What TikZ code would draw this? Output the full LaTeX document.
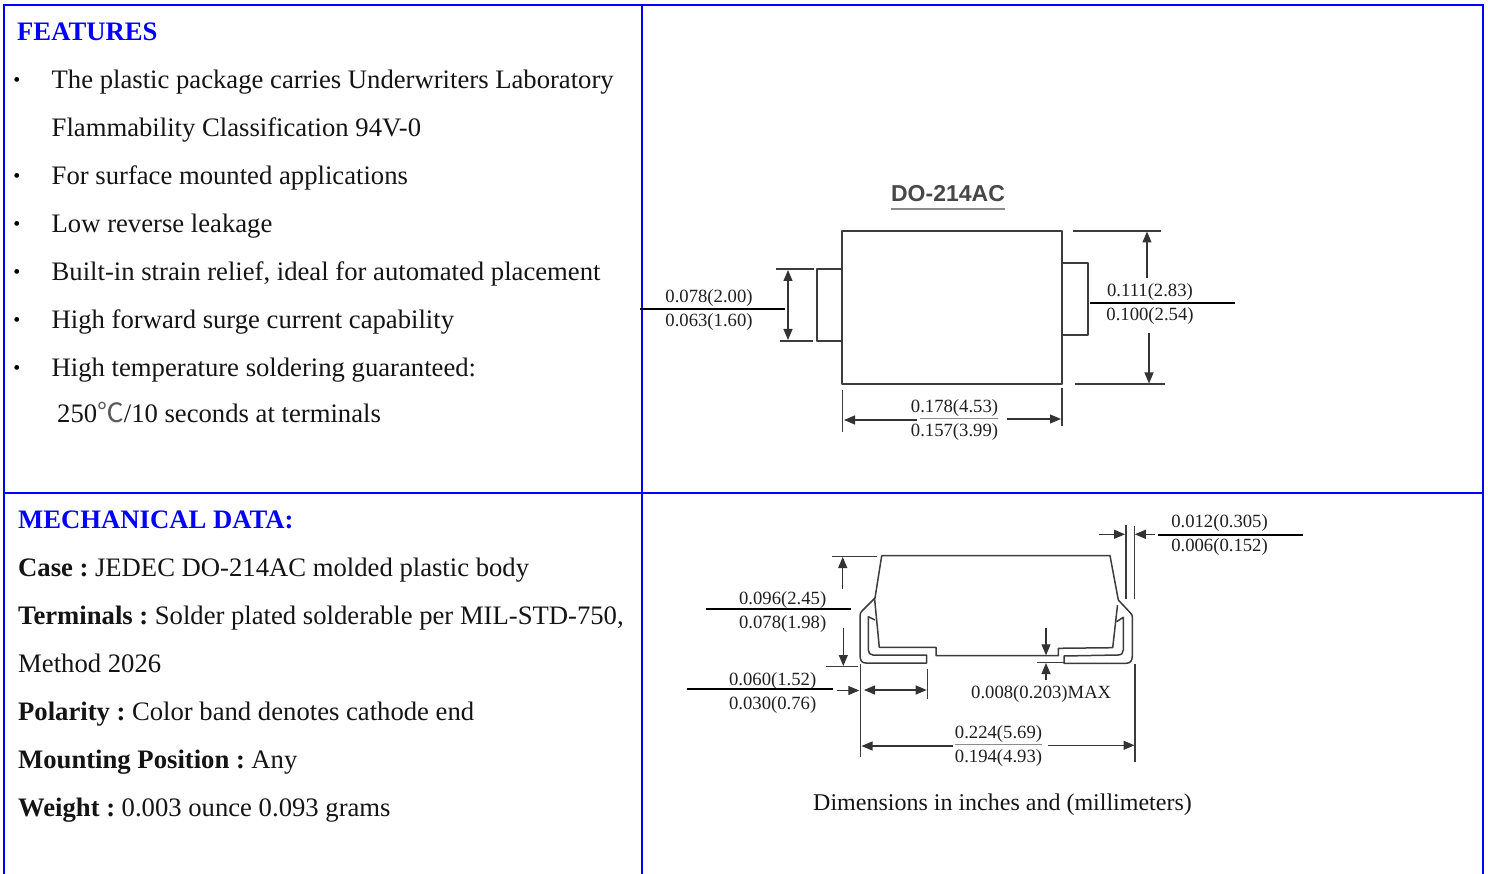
\documentclass[tikz,border=0pt]{standalone}
\usepackage{fontspec}
\setmainfont{Liberation Serif}
\newfontfamily\cjkfont{Noto Sans CJK SC}
\newfontfamily\arialfont{Liberation Sans}
\usetikzlibrary{arrows.meta}
\definecolor{rule}{RGB}{0,0,255}
\definecolor{pen}{RGB}{60,60,60}
\newcommand{\lab}[1]{\textbf{#1}\hspace{6.5pt}}
\tikzset{
  frameline/.style={draw=rule,line width=2pt},
  body/.style={inner sep=0pt,anchor=base west,font=\fontsize{26.67}{26.67}\selectfont,text=black!92},
  headtext/.style={body,font=\fontsize{26.67}{26.67}\selectfont\bfseries,text=rule},
  bulletmark/.style={inner sep=0pt,anchor=center,font=\fontsize{20}{20}\selectfont},
  dimtext/.style={inner sep=0pt,anchor=base,font=\fontsize{18.67}{18.67}\selectfont,text=black!88},
  outline/.style={draw=pen,line width=1.5pt,line join=round},
  thin line/.style={draw=pen,line width=1.2pt},
  fracline/.style={draw=black,line width=2pt},
  softline/.style={draw=black!45,line width=1.2pt},
  dimarrow/.style={draw=black!80,line width=1.1pt,-{Triangle[length=11pt,width=9pt]}},
  dimboth/.style={draw=black!80,line width=1.1pt,{Triangle[length=11pt,width=9pt]}-{Triangle[length=11pt,width=9pt]}}
}
\begin{document}
\begin{tikzpicture}[x=1pt,y=-1pt]
\useasboundingbox (0,0) rectangle (1488,874);
% frame
\draw[frameline] (4,874) -- (4,5) -- (1483,5) -- (1483,874);
\draw[frameline] (642,5) -- (642,874);
\draw[frameline] (4,493) -- (1483,493);
% features
\node[headtext] (feat) at (17,40.5) {FEATURES};
\foreach \nm/\yy in {b1/82,b2/178,b3/226,b4/274,b5/322,b6/370}
  \node[bulletmark] (\nm) at (17,\yy) {•};
\node[body] (f1) at (51.5,89) {The plastic package carries Underwriters Laboratory};
\node[body] (f1b) at (51.5,137) {Flammability Classification 94V-0};
\node[body] (f2) at (51.5,185) {For surface mounted applications};
\node[body] (f3) at (51.5,233) {Low reverse leakage};
\node[body] (f4) at (51.5,281) {Built-in strain relief, ideal for automated placement};
\node[body] (f5) at (51.5,329) {High forward surge current capability};
\node[body] (f6) at (51.5,377) {High temperature soldering guaranteed:};
\node[body] (f6b) at (57,422.5) {250{\cjkfont\color{black!65}℃}/10 seconds at terminals};
% mechanical
\node[headtext] (mech) at (18,528) {MECHANICAL DATA:};
\node[body] (m1) at (18,576.5) {\lab{Case :}JEDEC DO-214AC molded plastic body};
\node[body] (m2) at (18,624.5) {\lab{Terminals :}Solder plated solderable per MIL-STD-750,};
\node[body] (m2b) at (18,672.5) {Method 2026};
\node[body] (m3) at (18,720.5) {\lab{Polarity :}Color band denotes cathode end};
\node[body] (m4) at (18,768.5) {\lab{Mounting Position :}Any};
\node[body] (m5) at (18,816.5) {\lab{Weight :}0.003 ounce 0.093 grams};
% top view
\node[inner sep=0pt,anchor=base,font=\fontsize{23}{23}\selectfont\arialfont\bfseries,text=black!72] (pkg) at (948,202) {DO-214AC};
\draw[softline] (891,209) -- (1005,209);
\draw[outline] (842,231) rectangle (1062,384);
\draw[outline] (842,269) -- (817,269) -- (817,341) -- (842,341);
\draw[outline] (1062,263) -- (1088,263) -- (1088,335) -- (1062,335);
\draw[thin line] (776,269) -- (814,269);
\draw[thin line] (780,341) -- (813,341);
\draw[dimboth] (788,270) -- (788,340);
\draw[fracline] (640,309) -- (785,309);
\node[dimtext] (a1) at (709,303) {0.078(2.00)};
\node[dimtext] (a2) at (709,327) {0.063(1.60)};
\draw[thin line] (1073,231) -- (1161,231);
\draw[thin line] (1075,384) -- (1165,384);
\draw[dimarrow] (1147,278) -- (1147,231.5);
\draw[dimarrow] (1149,333) -- (1149,383.5);
\draw[fracline] (1090,303) -- (1235,303);
\node[dimtext] (c1) at (1150,297) {0.111(2.83)};
\node[dimtext] (c2) at (1150,321) {0.100(2.54)};
\draw[thin line] (842.5,390) -- (842.5,432);
\draw[thin line] (1062,388) -- (1062,426);
\draw[dimarrow] (917,420) -- (844,420);
\draw[dimarrow] (1007,419) -- (1061,419);
\draw[softline] (920,418.5) -- (998,418.5);
\node[dimtext] (d1) at (954.5,412) {0.178(4.53)};
\node[dimtext] (d2) at (954.5,436) {0.157(3.99)};
% side view
\draw[outline] (875,598) -- (881.7,555.7) -- (1110,555.7) -- (1118.3,600);
\draw[outline] (874.5,598) -- (879.3,647.3) -- (936,647.3) -- (936,655.7) -- (1058.3,655.7) -- (1058.3,648.3) -- (1112.7,647.7) -- (1117.5,605);
\draw[outline] (875,598) -- (862,611) .. controls (860.5,612.5) and (860,614) .. (860,616) -- (860,655) .. controls (860,661) and (862,663) .. (866,663) -- (926.7,663) -- (926.7,655) -- (873,655) .. controls (870,655) and (868.3,653) .. (868.3,650) -- (868.3,616.7) -- (875,620);
\draw[outline] (1118.3,600) -- (1130.5,613) .. controls (1131.8,614.3) and (1132.3,615.5) .. (1132.3,617) -- (1132.3,656) .. controls (1132.3,661) and (1130,663.3) .. (1126,663.3) -- (1064,663.3) -- (1064,656) -- (1118,655) .. controls (1121.5,655) and (1123.3,653) .. (1123.3,650) -- (1123.3,617.3) -- (1116.5,621.7);
\draw[thin line] (832,556.7) -- (877,556.7);
\draw[dimarrow] (842.7,589) -- (842.7,557);
\draw[dimarrow] (843.3,628) -- (843.3,666);
\draw[thin line] (826,666.3) -- (857.7,666.3);
\draw[fracline] (705.7,608.7) -- (851,608.7);
\node[dimtext] (e1) at (782.7,604.5) {0.096(2.45)};
\node[dimtext] (e2) at (782.7,628) {0.078(1.98)};
\draw[fracline] (687.3,689) -- (832.7,689);
\node[dimtext] (g1) at (772.7,685) {0.060(1.52)};
\node[dimtext] (g2) at (772.7,709) {0.030(0.76)};
\draw[dimarrow] (837.3,690.5) -- (859.3,690.5);
\draw[thin line] (860.5,664) -- (860.5,756.7);
\draw[dimboth] (864,690) -- (926.7,690);
\draw[thin line] (927.7,669.3) -- (927.7,699.3);
\draw[dimarrow] (953,746) -- (861.5,746);
\draw[dimarrow] (1048,745.3) -- (1134.5,745.3);
\draw[thin line] (1135,664) -- (1135,761.7);
\draw[softline] (955,744.5) -- (1042,744.5);
\node[dimtext] (h1) at (998.5,738) {0.224(5.69)};
\node[dimtext] (h2) at (998.5,762) {0.194(4.93)};
\draw[dimarrow] (1046,628.3) -- (1046,655.3);
\draw[dimarrow] (1046,680) -- (1046,663);
\draw[thin line] (1036.7,662.3) -- (1064,662.3);
\node[dimtext,anchor=base west] (i1) at (971,698) {0.008(0.203)MAX};
\draw[dimarrow] (1099.3,534.3) -- (1125,534.3);
\draw[dimarrow] (1155,534.3) -- (1134.8,534.3);
\draw[thin line] (1126,525) -- (1126,599.3);
\draw[thin line] (1134.3,526) -- (1134.3,599.3);
\draw[fracline] (1157.7,534.7) -- (1303.3,534.7);
\node[dimtext] (j1) at (1219.5,527) {0.012(0.305)};
\node[dimtext] (j2) at (1219.5,551) {0.006(0.152)};
\node[inner sep=0pt,anchor=base,font=\fontsize{24}{24}\selectfont,text=black!92] (cap) at (1002.5,810) {Dimensions in inches and (millimeters)};
\end{tikzpicture}
\end{document}
